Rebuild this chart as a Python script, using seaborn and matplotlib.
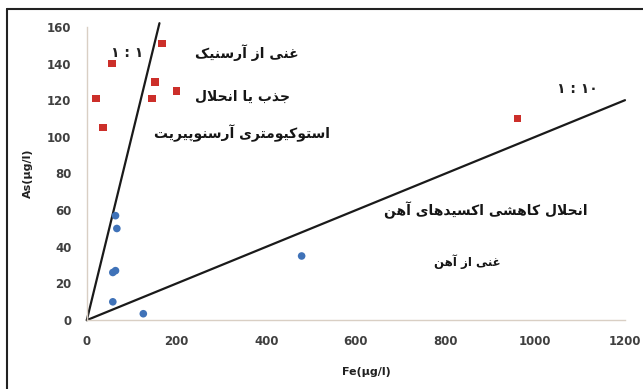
import matplotlib
matplotlib.use("Agg")
import matplotlib.pyplot as plt
import seaborn as sns
import pandas as pd
from matplotlib.lines import Line2D

# ---------------- data ----------------
red_fe = [20, 36, 56, 168, 152, 145, 200, 960]
red_as = [121, 105, 140, 151, 130, 121, 125, 110]
blue_fe = [64, 67, 64, 58, 58, 126, 479]
blue_as = [57, 50, 27, 26, 10, 3.5, 35]

line11_fe = [0, 162]
line11_as = [0, 162]
line110_fe = [0, 1200]
line110_as = [0, 120]

x_ticks = [0, 200, 400, 600, 800, 1000, 1200]
y_ticks = [0, 20, 40, 60, 80, 100, 120, 140, 160]

x_label = "Fe(µg/l)"
y_label = "As(µg/l)"

ratio_labels = ["۱ : ۱", "۱ : ۱۰"]
notes = ["غنی از آرسنیک", "جذب یا انحلال", "استوکیومتری آرسنوپیریت",
         "انحلال کاهشی اکسیدهای آهن", "غنی از آهن"]

# ---------------- layout (annotation anchors, in data units) ----------------
ratio_anchor = [(89, 146), (1094, 126)]
notes_anchor = [(357, 146), (348, 122), (346, 102), (890, 60), (848, 32)]
notes_size = [10, 10, 10, 10, 8.5]

# ------------- Persian shaping for display (matplotlib has no CTL) -------------
FORMS = {
    '\u0627': ('\uFE8D', '\uFE8E', None, None),
    '\u0622': ('\uFE81', '\uFE82', None, None),
    '\u0628': ('\uFE8F', '\uFE90', '\uFE91', '\uFE92'),
    '\u067E': ('\uFB56', '\uFB57', '\uFB58', '\uFB59'),
    '\u062A': ('\uFE95', '\uFE96', '\uFE97', '\uFE98'),
    '\u062B': ('\uFE99', '\uFE9A', '\uFE9B', '\uFE9C'),
    '\u062C': ('\uFE9D', '\uFE9E', '\uFE9F', '\uFEA0'),
    '\u0686': ('\uFB7A', '\uFB7B', '\uFB7C', '\uFB7D'),
    '\u062D': ('\uFEA1', '\uFEA2', '\uFEA3', '\uFEA4'),
    '\u062E': ('\uFEA5', '\uFEA6', '\uFEA7', '\uFEA8'),
    '\u062F': ('\uFEA9', '\uFEAA', None, None),
    '\u0630': ('\uFEAB', '\uFEAC', None, None),
    '\u0631': ('\uFEAD', '\uFEAE', None, None),
    '\u0632': ('\uFEAF', '\uFEB0', None, None),
    '\u0698': ('\uFB8A', '\uFB8B', None, None),
    '\u0633': ('\uFEB1', '\uFEB2', '\uFEB3', '\uFEB4'),
    '\u0634': ('\uFEB5', '\uFEB6', '\uFEB7', '\uFEB8'),
    '\u0635': ('\uFEB9', '\uFEBA', '\uFEBB', '\uFEBC'),
    '\u0636': ('\uFEBD', '\uFEBE', '\uFEBF', '\uFEC0'),
    '\u0637': ('\uFEC1', '\uFEC2', '\uFEC3', '\uFEC4'),
    '\u0638': ('\uFEC5', '\uFEC6', '\uFEC7', '\uFEC8'),
    '\u0639': ('\uFEC9', '\uFECA', '\uFECB', '\uFECC'),
    '\u063A': ('\uFECD', '\uFECE', '\uFECF', '\uFED0'),
    '\u0641': ('\uFED1', '\uFED2', '\uFED3', '\uFED4'),
    '\u0642': ('\uFED5', '\uFED6', '\uFED7', '\uFED8'),
    '\u06A9': ('\uFB8E', '\uFB8F', '\uFB90', '\uFB91'),
    '\u06AF': ('\uFB92', '\uFB93', '\uFB94', '\uFB95'),
    '\u0644': ('\uFEDD', '\uFEDE', '\uFEDF', '\uFEE0'),
    '\u0645': ('\uFEE1', '\uFEE2', '\uFEE3', '\uFEE4'),
    '\u0646': ('\uFEE5', '\uFEE6', '\uFEE7', '\uFEE8'),
    '\u0647': ('\uFEE9', '\uFEEA', '\uFEEB', '\uFEEC'),
    '\u0648': ('\uFEED', '\uFEEE', None, None),
    '\u06CC': ('\uFBFC', '\uFBFD', '\uFBFE', '\uFBFF'),
    '\u064A': ('\uFEF1', '\uFEF2', '\uFEF3', '\uFEF4'),
}
LAM_ALEF = {'\u0627': ('\uFEFB', '\uFEFC'), '\u0622': ('\uFEF5', '\uFEF6')}


def shape(text):
    out = []
    i = 0
    n = len(text)
    while i < n:
        c = text[i]
        if c not in FORMS:
            out.append(c)
            i += 1
            continue
        prev = text[i - 1] if i > 0 else None
        joins_prev = prev in FORMS and FORMS[prev][2] is not None
        if c == '\u0644' and i + 1 < n and text[i + 1] in LAM_ALEF:
            iso, fin = LAM_ALEF[text[i + 1]]
            out.append(fin if joins_prev else iso)
            i += 2
            continue
        nxt = text[i + 1] if i + 1 < n else None
        joins_next = FORMS[c][2] is not None and nxt in FORMS
        iso, fin, ini, med = FORMS[c]
        if joins_prev and joins_next:
            out.append(med)
        elif joins_prev:
            out.append(fin)
        elif joins_next:
            out.append(ini)
        else:
            out.append(iso)
        i += 1
    return ''.join(reversed(out))


# ---------------- plot ----------------
sns.set_theme(style="white")
plt.rcParams['font.family'] = ['DejaVu Sans']

fig = plt.figure(figsize=(6.43, 3.89), dpi=100)
ax = fig.add_axes([0.135, 0.177, 0.837, 0.754])

df = pd.DataFrame({
    "Fe": red_fe + blue_fe,
    "As": red_as + blue_as,
    "group": ["red"] * len(red_fe) + ["blue"] * len(blue_fe),
})
sns.scatterplot(data=df[df.group == "red"], x="Fe", y="As", marker="s",
                color="#cc2f2a", s=30, edgecolor="none", ax=ax, clip_on=False, zorder=3)
sns.scatterplot(data=df[df.group == "blue"], x="Fe", y="As", marker="o",
                color="#3f72b8", s=30, edgecolor="none", ax=ax, clip_on=False, zorder=3)

ax.plot(line11_fe, line11_as, color="#1a1a1a", lw=1.6, clip_on=False, zorder=2)
ax.plot(line110_fe, line110_as, color="#1a1a1a", lw=1.6, clip_on=False, zorder=2)

ax.set_xlim(0, 1200)
ax.set_ylim(0, 160)
ax.set_xticks(x_ticks)
ax.set_yticks(y_ticks)
ax.set_xticklabels([str(v) for v in x_ticks])
ax.set_yticklabels([str(v) for v in y_ticks])
ax.tick_params(axis="both", which="both", direction="out", length=3, width=0.8,
               color="#d9cfc4", labelsize=8.5, labelcolor="#404040", pad=8)
for lab in ax.get_xticklabels() + ax.get_yticklabels():
    lab.set_fontweight("bold")

for side in ["top", "right"]:
    ax.spines[side].set_visible(False)
for side in ["left", "bottom"]:
    ax.spines[side].set_color("#d9cfc4")
    ax.spines[side].set_linewidth(1.0)

ax.set_xlabel(x_label, fontsize=8, fontweight="bold", color="#202020")
ax.xaxis.set_label_coords(0.52, -0.16)
ax.set_ylabel(y_label, fontsize=8, fontweight="bold", color="#202020")
ax.yaxis.set_label_coords(-0.1, 0.5)

for lab, (x, y) in zip(ratio_labels, ratio_anchor):
    ax.text(x, y, lab, fontsize=10, fontweight="bold", color="#202020",
            ha="center", va="center")

for lab, (x, y), fs in zip(notes, notes_anchor, notes_size):
    ax.text(x, y, shape(lab), fontsize=fs, fontweight="bold", color="#151515",
            ha="center", va="center", family=["DejaVu Sans"])

# outer frame (top and left edges visible in the reference)
fig.add_artist(Line2D([0.011, 0.011], [0, 0.977], transform=fig.transFigure,
                      color="#222222", lw=1.5))
fig.add_artist(Line2D([0.011, 1.0], [0.977, 0.977], transform=fig.transFigure,
                      color="#222222", lw=1.5))

fig.savefig("out.png", dpi=100, facecolor="white")
